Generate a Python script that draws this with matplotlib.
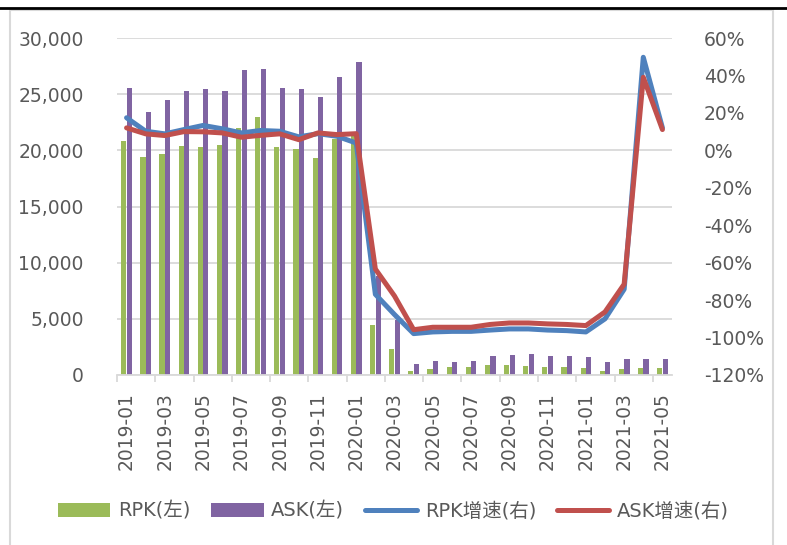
import numpy as np
import matplotlib
matplotlib.use("Agg")
import matplotlib.pyplot as plt
from matplotlib.lines import Line2D
from matplotlib.patches import Rectangle
from matplotlib.ticker import FuncFormatter, MultipleLocator

plt.rcParams['font.family'] = ['DejaVu Sans', 'Noto Sans CJK SC']

# 月份
months = ['2019-01', '2019-02', '2019-03', '2019-04', '2019-05', '2019-06',
          '2019-07', '2019-08', '2019-09', '2019-10', '2019-11', '2019-12',
          '2020-01', '2020-02', '2020-03', '2020-04', '2020-05', '2020-06',
          '2020-07', '2020-08', '2020-09', '2020-10', '2020-11', '2020-12',
          '2021-01', '2021-02', '2021-03', '2021-04', '2021-05']

rpk = [20870, 19370, 19700, 20420, 20270, 20450, 21950, 22940, 20270, 20090,
       19280, 21050, 21260, 4430, 2340, 360, 540, 720, 750, 900,
       900, 840, 720, 690, 600, 390, 540, 600, 600]
ask = [25540, 23450, 24440, 25240, 25450, 25270, 27160, 27250, 25510, 25480,
       24710, 26560, 27850, 8800, 4940, 990, 1220, 1170, 1280, 1710,
       1800, 1830, 1680, 1680, 1560, 1140, 1440, 1380, 1380]
# 增速 (%)
rpk_g = [17.4, 10.2, 8.8, 11.1, 13.3, 11.5, 9.3, 10.6, 10.2, 7.2,
         8.9, 7.5, 3.9, -76.9, -87.7, -97.9, -97.0, -96.7, -96.7, -96.0,
         -95.4, -95.4, -96.0, -96.3, -97.0, -90.0, -74.2, 49.7, 12.0]
ask_g = [12.0, 8.8, 7.9, 10.0, 9.9, 9.3, 7.0, 8.0, 8.8, 5.7,
         9.3, 8.4, 8.9, -63.4, -77.8, -95.8, -94.5, -94.5, -94.5, -93.0,
         -92.2, -92.2, -92.7, -93.0, -93.6, -86.3, -71.5, 39.0, 11.1]

c_green = '#9BBB59'
c_purple = '#8064A2'
c_blue = '#4F81BD'
c_red = '#C0504D'
c_text = '#595959'
c_grid = '#D9D9D9'
fs = 13.5

fig = plt.figure(figsize=(7.87, 5.45), dpi=100)
ax = fig.add_axes([117/787, 1-375/545, (672-117)/787, (375-38)/545])
ax2 = ax.twinx()

x = np.arange(len(months))
w = 0.27
ax.bar(x - 0.145, rpk, width=w, color=c_green, label='RPK(左)', zorder=2)
ax.bar(x + 0.145, ask, width=w, color=c_purple, label='ASK(左)', zorder=2)

ax2.plot(x, rpk_g, color=c_blue, lw=3.6, solid_joinstyle='round',
         solid_capstyle='round', label='RPK增速(右)')
ax2.plot(x, ask_g, color=c_red, lw=3.6, solid_joinstyle='round',
         solid_capstyle='round', label='ASK增速(右)')

ax.set_xlim(-0.5, len(months) - 0.5)
ax.set_ylim(0, 30000)
ax.yaxis.set_major_locator(MultipleLocator(5000))
ax.yaxis.set_major_formatter(FuncFormatter(lambda v, p: f'{int(v):,}'))
ax.grid(axis='y', color=c_grid, lw=1.3)
ax.set_axisbelow(True)

ax2.set_ylim(-120, 60)
ax2.yaxis.set_major_locator(MultipleLocator(20))
ax2.yaxis.set_major_formatter(FuncFormatter(lambda v, p: f'{int(round(v))}%'))

ax.set_xticks(x[::2])
ax.set_xticklabels(months[::2], rotation=90)
ax.set_xticks(np.arange(-0.5, len(months), 2), minor=True)
ax.tick_params(axis='x', which='major', length=0, pad=12, labelsize=fs, labelcolor=c_text)
ax.tick_params(axis='x', which='minor', length=5, color=c_grid, width=1.3)
ax.tick_params(axis='y', length=0, pad=24, labelsize=fs, labelcolor=c_text)
ax2.tick_params(axis='y', length=0, pad=23, labelsize=fs, labelcolor=c_text)

for a in (ax, ax2):
    for s in ('top', 'left', 'right', 'bottom'):
        a.spines[s].set_visible(False)
ax.spines['bottom'].set_visible(True)
ax.spines['bottom'].set_color(c_grid)
ax.spines['bottom'].set_linewidth(1.3)

h1, l1 = ax.get_legend_handles_labels()
h2, l2 = ax2.get_legend_handles_labels()
handles = h1 + [Line2D([], [], color=c_blue, lw=3.6, solid_capstyle='round'),
                Line2D([], [], color=c_red, lw=3.6, solid_capstyle='round')]
leg = fig.legend(handles, l1 + l2, loc='center', bbox_to_anchor=(0.5, 1-511/545),
                 ncol=4, frameon=False, fontsize=14, handlelength=2.7,
                 handleheight=0.72, handletextpad=0.4, columnspacing=1.05,
                 labelcolor=c_text)

# 外框
fig.add_artist(Rectangle((10/787, -0.02), (773-10)/787, 1.02-10/545,
                         transform=fig.transFigure, fill=False, ec=c_grid, lw=1.5))
fig.add_artist(Line2D([0, 1], [1-8/545, 1-8/545], transform=fig.transFigure,
                      color='black', lw=2))

fig.savefig('out.png', dpi=100)
